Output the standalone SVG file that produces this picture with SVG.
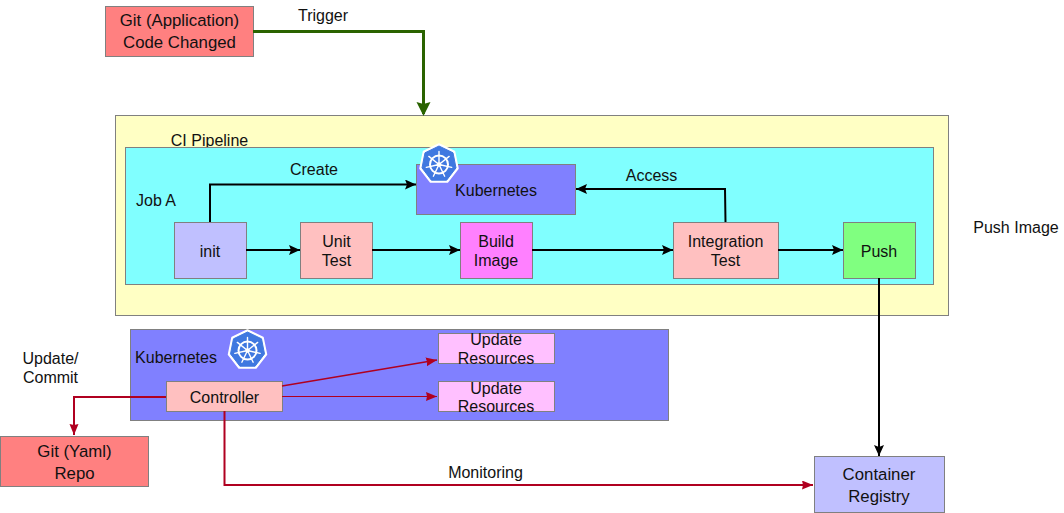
<svg xmlns="http://www.w3.org/2000/svg" width="1064" height="513" viewBox="0 0 1064 513">
<style>
text{font-family:"Liberation Sans",Arial,sans-serif;font-size:16px;fill:#111;text-anchor:middle}
.w{font-size:16.800px}
.b{stroke:#808080;stroke-width:1}
.k{fill:none;stroke:#000;stroke-width:2}
.r{fill:none;stroke:#b00020;stroke-width:2}
.r1{fill:none;stroke:#b00020;stroke-width:1.400}
.r2{fill:none;stroke:#b00020;stroke-width:1}
</style>
<defs>
<marker id="ak" markerUnits="userSpaceOnUse" markerWidth="12" markerHeight="10" refX="11" refY="5" orient="auto"><path d="M0 0L11 5L0 10L2 5Z" fill="#000"/></marker>
<marker id="ar" markerUnits="userSpaceOnUse" markerWidth="12" markerHeight="10" refX="11" refY="4.500" orient="auto"><path d="M0 0L11 4.500L0 9L1 4.500Z" fill="#b00020"/></marker>
<marker id="ag" markerUnits="userSpaceOnUse" markerWidth="14" markerHeight="16" refX="12" refY="7" orient="auto"><path d="M0 0L14 7L0 14L2 7Z" fill="#2a6300"/></marker>
<g id="k8s">
<path d="M0 -20L15.500 -12.500L19 4.500L8.500 18H-8.500L-19 4.500L-15.500 -12.500Z" fill="#fff" stroke="#fff" stroke-width="1.500" stroke-linejoin="round"/>
<path d="M0 -18L14 -11.200L17 3.900L7.600 16.200H-7.600L-17 3.900L-14 -11.200Z" fill="#3f78e0" stroke="#3f78e0" stroke-width="1" stroke-linejoin="round"/>
<g transform="translate(0,0.500)">
<circle r="9" fill="none" stroke="#fff" stroke-width="2"/>
<circle r="2.200" fill="#fff"/>
<path d="M0 0V-13M0 0L10.160 -8.100M0 0L12.670 2.890M0 0L5.640 11.710M0 0L-5.640 11.710M0 0L-12.670 2.890M0 0L-10.160 -8.100" stroke="#fff" stroke-width="1.400" fill="none" stroke-linecap="round"/>
</g>
</g>
</defs>

<g id="ci-pipeline"><rect class="b" x="115.500" y="115.500" width="833" height="200" fill="#ffffc4"/><text x="209.500" y="146">CI Pipeline</text></g>
<g id="job-a"><rect class="b" x="125.500" y="147.500" width="808" height="137" fill="#80ffff"/><text x="156" y="206">Job A</text></g>
<g id="k8s-top"><rect class="b" x="416.500" y="164.500" width="159" height="50" fill="#8080ff"/><text x="496" y="196">Kubernetes</text><use href="#k8s" x="439" y="164"/></g>
<g id="git-app"><rect class="b" x="105.500" y="6.500" width="148" height="50" fill="#ff8080"/><text class="w" x="179.500" y="26">Git (Application)</text><text class="w" x="179.500" y="48">Code Changed</text></g>
<g id="init"><rect class="b" x="174.500" y="222.500" width="72" height="56" fill="#c0c0ff"/><text x="210" y="257">init</text></g>
<g id="unit-test"><rect class="b" x="300.500" y="222.500" width="72" height="56" fill="#ffc0c0"/><text x="336.500" y="247">Unit</text><text x="336.500" y="266">Test</text></g>
<g id="build-image"><rect class="b" x="460.500" y="222.500" width="72" height="56" fill="#ff80ff"/><text x="496" y="247">Build</text><text x="496" y="266">Image</text></g>
<g id="integration-test"><rect class="b" x="673.500" y="222.500" width="105" height="56" fill="#ffc0c0"/><text x="725.500" y="247">Integration</text><text x="725.500" y="266">Test</text></g>
<g id="push"><rect class="b" x="843.500" y="222.500" width="72" height="56" fill="#80ff80"/><text x="879" y="257">Push</text></g>
<g id="k8s-bottom"><rect class="b" x="130.500" y="329.500" width="538" height="91" fill="#8080ff"/><text x="176" y="363">Kubernetes</text><use href="#k8s" x="247.500" y="350"/></g>
<g id="controller"><rect class="b" x="166.500" y="381.500" width="116" height="30" fill="#ffc0c0"/><text x="224.500" y="403">Controller</text></g>
<g id="update-1"><rect class="b" x="438.500" y="333.500" width="116" height="30" fill="#ffc0ff"/><text x="496" y="345">Update</text><text x="496" y="364">Resources</text></g>
<g id="update-2"><rect class="b" x="438.500" y="381.500" width="116" height="30" fill="#ffc0ff"/><text x="496" y="394">Update</text><text x="496" y="412">Resources</text></g>
<g id="git-yaml"><rect class="b" x="0.500" y="436.500" width="148" height="50" fill="#ff8080"/><text class="w" x="74.500" y="457">Git (Yaml)</text><text class="w" x="74.500" y="479">Repo</text></g>
<g id="registry"><rect class="b" x="814.500" y="456.500" width="130" height="56" fill="#c0c0ff"/><text class="w" x="879" y="480">Container</text><text class="w" x="879" y="502">Registry</text></g>

<g id="connectors">
<path d="M253 31.500H423.500V114" fill="none" stroke="#2a6300" stroke-width="3" marker-end="url(#ag)"/>
<path class="k" d="M210 222V184.500H416" marker-end="url(#ak)"/>
<path class="k" d="M246 250H300" marker-end="url(#ak)"/>
<path class="k" d="M372 250H460" marker-end="url(#ak)"/>
<path class="k" d="M532 250H673" marker-end="url(#ak)"/>
<path class="k" d="M778 250H843" marker-end="url(#ak)"/>
<path class="k" d="M725.500 222L725 189H576" marker-end="url(#ak)"/>
<path class="k" d="M879 278V456" marker-end="url(#ak)"/>
<path class="r1" d="M282 386L437 360" marker-end="url(#ar)"/>
<path class="r2" d="M282 396.500H437" marker-end="url(#ar)"/>
<path class="r" d="M166 397H74V435" marker-end="url(#ar)"/>
<path class="r" d="M224.500 411V485H813" marker-end="url(#ar)"/>
</g>

<g id="labels">
<text x="323" y="21">Trigger</text>
<text x="314" y="175">Create</text>
<text x="651.500" y="181">Access</text>
<text x="1016" y="233">Push Image</text>
<text x="50.500" y="364">Update/</text>
<text x="50.500" y="383">Commit</text>
<text x="485.500" y="478">Monitoring</text>
</g>
</svg>
